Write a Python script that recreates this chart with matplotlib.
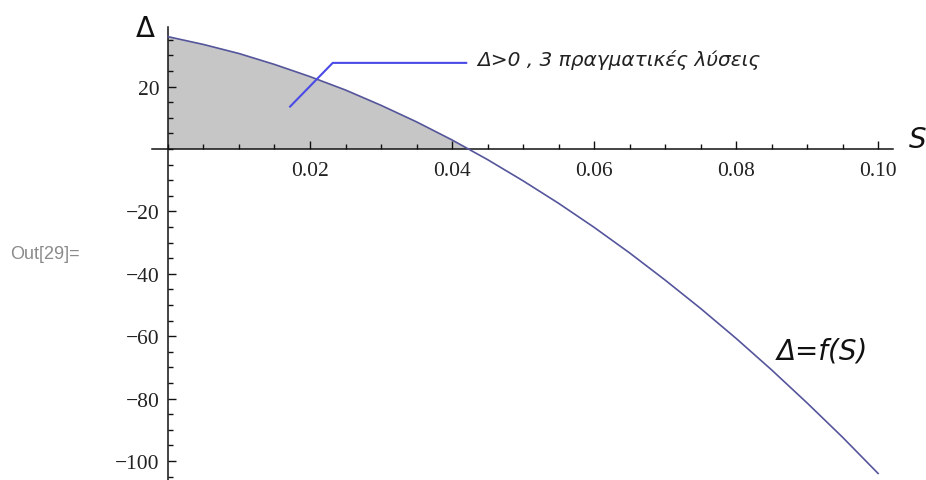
import matplotlib
matplotlib.use("Agg")
import matplotlib.pyplot as plt
import numpy as np
from matplotlib.ticker import MultipleLocator, FixedLocator

# values
S = [0.0, 0.005, 0.01, 0.015, 0.02, 0.025, 0.03, 0.035, 0.04, 0.045, 0.05,
     0.055, 0.06, 0.065, 0.07, 0.075, 0.08, 0.085, 0.09, 0.095, 0.1]
delta = [36.0, 33.5, 30.6, 27.1, 23.2, 18.9, 14.0, 8.7, 2.9, -3.4, -10.2,
         -17.4, -25.1, -33.3, -42.0, -51.1, -60.7, -70.8, -81.4, -92.4, -104.0]

x_ticks = [0.02, 0.04, 0.06, 0.08, 0.10]
x_labels = ["0.02", "0.04", "0.06", "0.08", "0.10"]
y_ticks = [20, -20, -40, -60, -80, -100]
y_labels = ["20", "\u221220", "\u221240", "\u221260", "\u221280", "\u2212100"]

note_text = "\u0394>0 , 3 \u03c0\u03c1\u03b1\u03b3\u03bc\u03b1\u03c4\u03b9\u03ba\u03ad\u03c2 \u03bb\u03cd\u03c3\u03b5\u03b9\u03c2"
note_path_s = [0.0172, 0.0232, 0.0420]
note_path_d = [13.6, 27.6, 27.6]

W, H = 926, 481
fig = plt.figure(figsize=(W / 100, H / 100), dpi=100)
# axes box in pixel coords: x from 152 to 893, y from 28 (top) to 481 (bottom)
ax = fig.add_axes([152 / W, 0, (893 - 152) / W, (481 - 28) / H])
ax.set_xlim(-0.00225, 0.1021)
ax.set_ylim(-106.1, 39.1)

S_arr = np.array(S)
d_arr = np.array(delta)
ax.fill_between(S_arr, d_arr, 0, where=d_arr >= 0, interpolate=True,
                facecolor="#c6c6c6", edgecolor="none", zorder=1)
ax.plot(S_arr, d_arr, color="#55559c", lw=1.2, zorder=3)

ax.plot(note_path_s, note_path_d, color="#4a4ae6", lw=1.5, zorder=4)
ax.text(0.0436, 28.8, note_text, fontsize=14.5, style="italic",
        family="DejaVu Sans", color="#222222", va="center", ha="left")
ax.text(0.0857, -64.5, "\u0394=f(S)", fontsize=20, style="italic",
        family="DejaVu Sans", color="#111111", va="center", ha="left")

for side in ["top", "right"]:
    ax.spines[side].set_visible(False)
ax.spines["left"].set_position(("data", 0))
ax.spines["bottom"].set_position(("data", 0))
for side in ["left", "bottom"]:
    ax.spines[side].set_linewidth(1.1)
    ax.spines[side].set_color("#111111")

ax.xaxis.set_major_locator(FixedLocator(x_ticks))
ax.set_xticklabels(x_labels)
ax.xaxis.set_minor_locator(MultipleLocator(0.005))
ax.yaxis.set_major_locator(FixedLocator(y_ticks))
ax.set_yticklabels(y_labels)
ax.yaxis.set_minor_locator(MultipleLocator(5))

ax.tick_params(which="both", direction="in", color="#111111", width=1.0)
ax.tick_params(which="major", length=6)
ax.tick_params(which="minor", length=3.5)
ax.tick_params(axis="x", which="major", pad=9)
ax.tick_params(axis="y", which="major", pad=6)
for lab in ax.get_xticklabels() + ax.get_yticklabels():
    lab.set_family("Liberation Serif")
    lab.set_fontsize(15.5)
    lab.set_color("#222222")

fig.text(145 / W, 1 - 29 / H, "\u0394", fontsize=20, family="DejaVu Sans",
         ha="center", va="center", color="#111111")
fig.text(918 / W, 1 - 140 / H, "S", fontsize=20, style="italic",
         family="DejaVu Sans", ha="center", va="center", color="#111111")
fig.text(10 / W, 1 - 255 / H, "Out[29]=", fontsize=13, family="Liberation Sans",
         ha="left", va="center", color="#8a8a8a")

fig.savefig("out.png", dpi=100)
